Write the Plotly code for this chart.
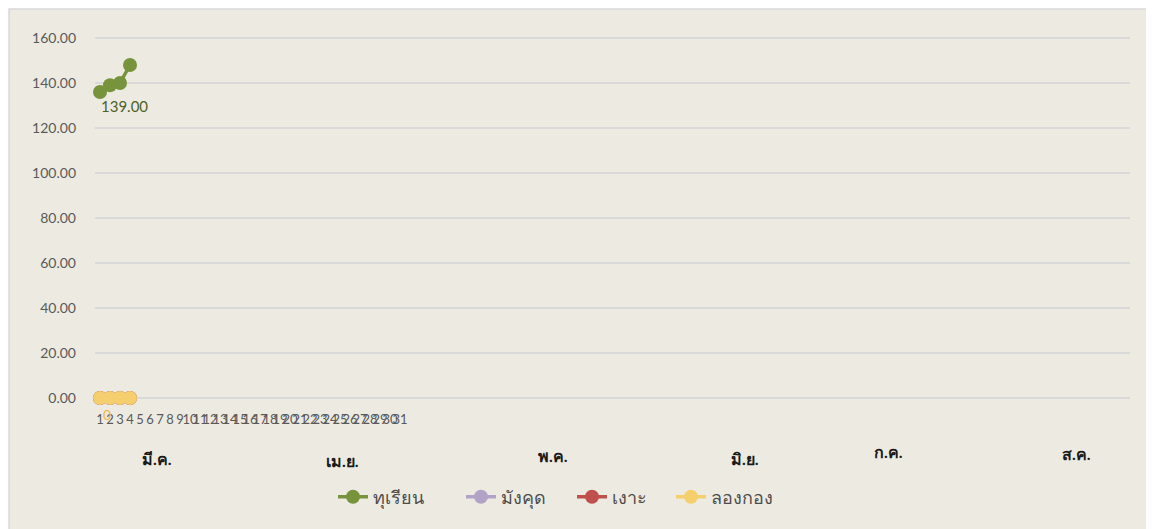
import plotly.graph_objects as go

# ---- data ----
days = [str(d) for d in range(1, 32)]
point_days = [1, 2, 3, 4]
durian = [136.0, 139.0, 140.0, 148.0]
mangosteen = [0, 0, 0, 0]
rambutan = [0, 0, 0, 0]
longkong = [0, 0, 0, 0]
series_names = ["ทุเรียน", "มังคุด", "เงาะ", "ลองกอง"]
months = ["มี.ค.", "เม.ย.", "พ.ค.", "มิ.ย.", "ก.ค.", "ส.ค."]
y_ticks = [0, 20, 40, 60, 80, 100, 120, 140, 160]

colors = ["#77933C", "#B3A2C7", "#C0504D", "#F5CF6E"]
FONT = "Lato, 'Noto Sans', 'DejaVu Sans', sans-serif"

OFF = 8  # page body margin
W, H = 1154 - OFF, 529 - OFF
# layout in reference pixel coordinates
PL, PR, PT, PB = 95, 1130, 30, 410
L = PL - OFF
R = W - (PR - OFF)
T = PT - OFF
B = H - (PB - OFF)
pw = PR - PL
ph = PB - PT


def px_x(px):
    return (px - PL) / pw


def px_y(py):
    return (PB - py) / ph


legend_ids = ["legend", "legend2", "legend3", "legend4"]
legend_text_x = [373, 501, 612, 711]

fig = go.Figure()
for name, vals, c, lid in zip(series_names, [durian, mangosteen, rambutan, longkong], colors, legend_ids):
    fig.add_trace(go.Scatter(
        x=point_days, y=vals, name=name, mode="lines+markers",
        line=dict(color=c, width=3.5),
        marker=dict(color=c, size=14),
        cliponaxis=False, legend=lid,
    ))

# data labels
fig.add_annotation(x=point_days[1], y=durian[1], text=f"{durian[1]:.2f}",
                   showarrow=False, xshift=14, yshift=-21,
                   font=dict(family=FONT, size=15, color="#4F6228"))
fig.add_annotation(x=point_days[1], y=longkong[1], text=f"{longkong[1]:g}",
                   showarrow=False, xshift=-3, yshift=-16,
                   font=dict(family=FONT, size=14, color="#EDB648"))

# month labels
month_px = [157, 342, 553, 745, 888, 1076]
month_py = [458, 460, 455, 458, 452, 453]
for m, px, py in zip(months, month_px, month_py):
    fig.add_annotation(x=px_x(px), y=px_y(py), xref="paper", yref="paper",
                       text=f"<b>{m}</b>", showarrow=False, xanchor="center", yanchor="middle",
                       font=dict(family=FONT, size=16, color="#1a1a1a"))

# chart frame
fig.add_shape(type="rect", xref="paper", yref="paper",
              x0=px_x(9), x1=px_x(1170),
              y0=px_y(545), y1=px_y(9),
              fillcolor="#EDEBE1", line=dict(color="#D9D9D9", width=1.5), layer="below")

legend_common = dict(orientation="h", xanchor="left", y=px_y(497), yanchor="middle",
                     font=dict(family=FONT, size=18, color="#4d4d4d"),
                     bgcolor="rgba(0,0,0,0)")
legends = {}
for lid, tx in zip(legend_ids, legend_text_x):
    legends[lid] = dict(legend_common, x=px_x(tx - 40))

x_per_px = 1 / 10.0
fig.update_layout(
    width=W, height=H,
    margin=dict(l=L, r=R, t=T, b=B),
    paper_bgcolor="white",
    plot_bgcolor="rgba(0,0,0,0)",
    font=dict(family=FONT, color="#595959"),
    showlegend=True,
    **legends,
    xaxis=dict(
        range=[1 - (100 - PL) * x_per_px, 1 + (PR - 100) * x_per_px],
        tickmode="array", tickvals=list(range(1, 32)), ticktext=days,
        tickangle=0, showgrid=False, zeroline=False, showline=False, ticks="",
        tickfont=dict(family=FONT, size=13, color="#595959"),
    ),
    yaxis=dict(
        range=[-(PB - 398) / 2.25, 160 + (38 - PT) / 2.25],
        tickmode="array", tickvals=y_ticks, ticktext=[f"{v:.2f}" for v in y_ticks],
        showgrid=True, gridcolor="#D9D9D9", gridwidth=1.5,
        zeroline=True, zerolinecolor="#D9D9D9", zerolinewidth=1.5,
        showline=False, ticks="", ticklabelstandoff=18,
        tickfont=dict(family=FONT, size=14, color="#595959"),
    ),
)

fig.write_html("out.html")
